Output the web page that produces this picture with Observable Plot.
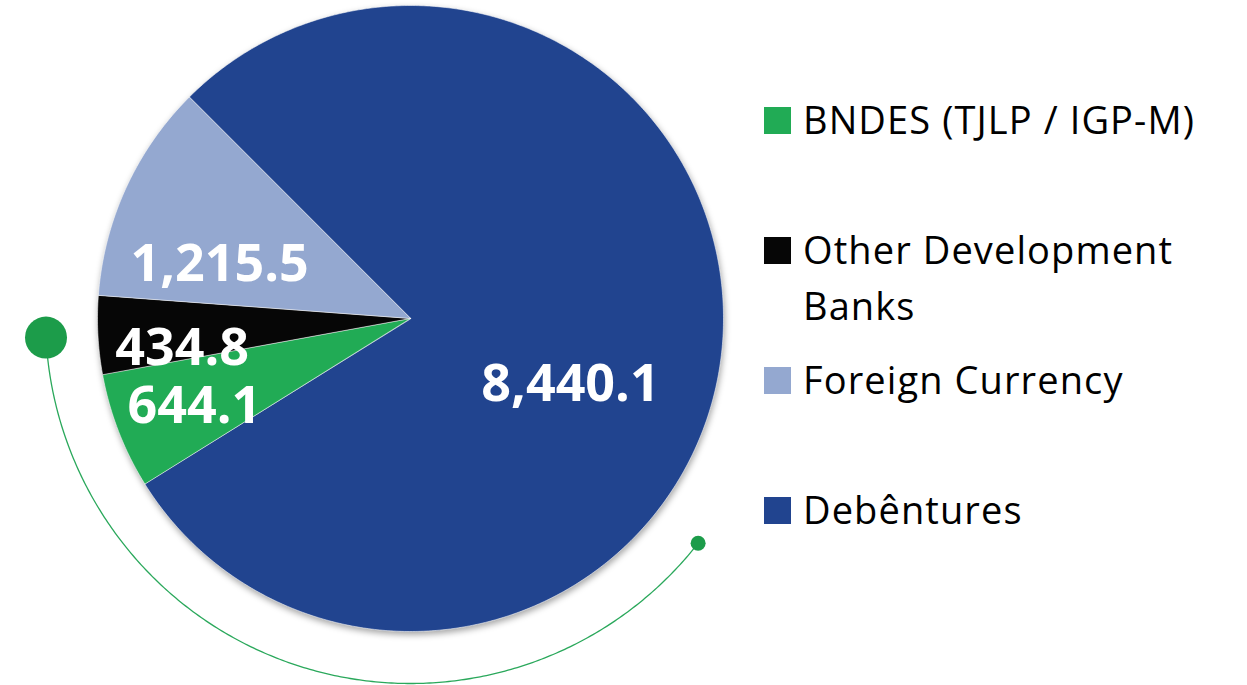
<!DOCTYPE html>
<html>
<head>
<meta charset="utf-8">
<script src="https://cdn.jsdelivr.net/npm/d3@7"></script>
<script src="https://cdn.jsdelivr.net/npm/@observablehq/plot@0.6"></script>
<style>
  html, body { margin: 0; padding: 0; background: #ffffff; }
  #wrap { position: relative; width: 1247px; height: 685px; overflow: hidden; font-family: "Open Sans", "Noto Sans", sans-serif; }
  #legend { position: absolute; left: 764px; top: 0; }
  .row { position: absolute; left: 0; font-size: 38px; line-height: 56px; color: #000; white-space: nowrap; letter-spacing: 1.1px; }
  .sw { position: absolute; left: 0; top: 15.7px; width: 27px; height: 27px; }
  .txt { position: absolute; left: 39px; top: 0; }
</style>
</head>
<body>
<div id="wrap"><div id="chart"></div><div id="legend"></div></div>
<script>
// ---- data ----
const categories = ["BNDES (TJLP / IGP-M)", "Other Development Banks", "Foreign Currency", "Debêntures"];
const values = [644.1, 434.8, 1215.5, 8440.1];
const valueLabels = ["644.1", "434.8", "1,215.5", "8,440.1"];
const legendLines = [["BNDES (TJLP / IGP-M)"], ["Other Development", "Banks"], ["Foreign Currency"], ["Debêntures"]];
// ---- style ----
const colors = ["#21ab55", "#060606", "#94a8d0", "#21448f"];
const sliceOrder = ["Debêntures", "BNDES (TJLP / IGP-M)", "Other Development Banks", "Foreign Currency"];
const labelLayout = { // radius fraction and angular shift (degrees) from slice mid-angle
  "Debêntures": {r: 0.553, shift: 15.9},
  "BNDES (TJLP / IGP-M)": {r: 0.745, shift: -0.9},
  "Other Development Banks": {r: 0.736, shift: -4.5},
  "Foreign Currency": {r: 0.634, shift: -8.7}
};

const rows = categories.map((c, i) => ({category: c, value: values[i], label: valueLabels[i]}));
const ordered = sliceOrder.map(c => rows.find(r => r.category === c));
const arcs = d3.pie().value(d => d.value).sort(null)
  .startAngle(-Math.PI / 4).endAngle(2 * Math.PI - Math.PI / 4)(ordered);
const polar = (a, r) => [r * Math.sin(a), r * Math.cos(a)];

const slices = {
  type: "FeatureCollection",
  features: arcs.map(a => {
    const n = Math.max(2, Math.ceil((a.endAngle - a.startAngle) / (Math.PI / 360)));
    const ring = [[0, 0]];
    for (let k = 0; k <= n; k++) ring.push(polar(a.startAngle + (a.endAngle - a.startAngle) * k / n, 1));
    ring.push([0, 0]);
    return {type: "Feature", properties: {...a.data}, geometry: {type: "Polygon", coordinates: [ring]}};
  })
};

const labels = arcs.map(a => {
  const L = labelLayout[a.data.category];
  const mid = (a.startAngle + a.endAngle) / 2 + L.shift * Math.PI / 180;
  const [x, y] = polar(mid, L.r);
  return {x, y, label: a.data.label};
});

// decorative ring (screen angles, degrees, y downward)
const ringR = 365 / 313;
const deco = (deg) => [ringR * Math.cos(deg * Math.PI / 180), -ringR * Math.sin(deg * Math.PI / 180)];
const decoLine = {type: "LineString", coordinates: d3.range(38, 177.01, 0.5).map(deco)};
const decoStart = [{p: deco(177)}];
const decoEnd = [{p: deco(38)}];

const chart = Plot.plot({
  width: 1247,
  height: 685,
  marginLeft: 97,
  marginTop: 5,
  marginRight: 524,
  marginBottom: 54,
  projection: {type: "reflect-y", domain: {type: "MultiPoint", coordinates: [[-1, -1], [1, 1]]}, inset: 0, clip: false},
  color: {domain: categories, range: colors},
  marks: [
    Plot.geo(decoLine, {stroke: "#2aa85b", strokeWidth: 1.3, fill: "none"}),
    Plot.dot(decoStart, {x: d => d.p[0], y: d => d.p[1], r: 21, fill: "#1c9c4a", stroke: "none"}),
    Plot.dot(decoEnd, {x: d => d.p[0], y: d => d.p[1], r: 7.5, fill: "#1c9c4a", stroke: "none"}),
    Plot.geo(slices, {fill: d => d.properties.category, stroke: "#ffffff", strokeOpacity: 0.55, strokeWidth: 1}),
    Plot.text(labels, {x: "x", y: "y", text: "label", fill: "white", fontSize: 52, fontWeight: "bold",
      fontFamily: "Open Sans", textAnchor: "middle", lineAnchor: "middle"})
  ]
});
const geos = chart.querySelectorAll('g[aria-label="geo"]');
if (geos[1]) geos[1].style.filter = "drop-shadow(1px 3px 3px rgba(0,0,0,0.35))";
document.getElementById("chart").appendChild(chart);

// legend
const legend = document.getElementById("legend");
legendLines.forEach((lines, i) => {
  const row = document.createElement("div");
  row.className = "row";
  row.style.top = (134 - 42.7 + i * 130) + "px";
  const sw = document.createElement("div");
  sw.className = "sw";
  sw.style.background = colors[i];
  const t = document.createElement("div");
  t.className = "txt";
  t.innerHTML = lines.join("<br>");
  row.appendChild(sw);
  row.appendChild(t);
  legend.appendChild(row);
});
</script>
</body>
</html>
